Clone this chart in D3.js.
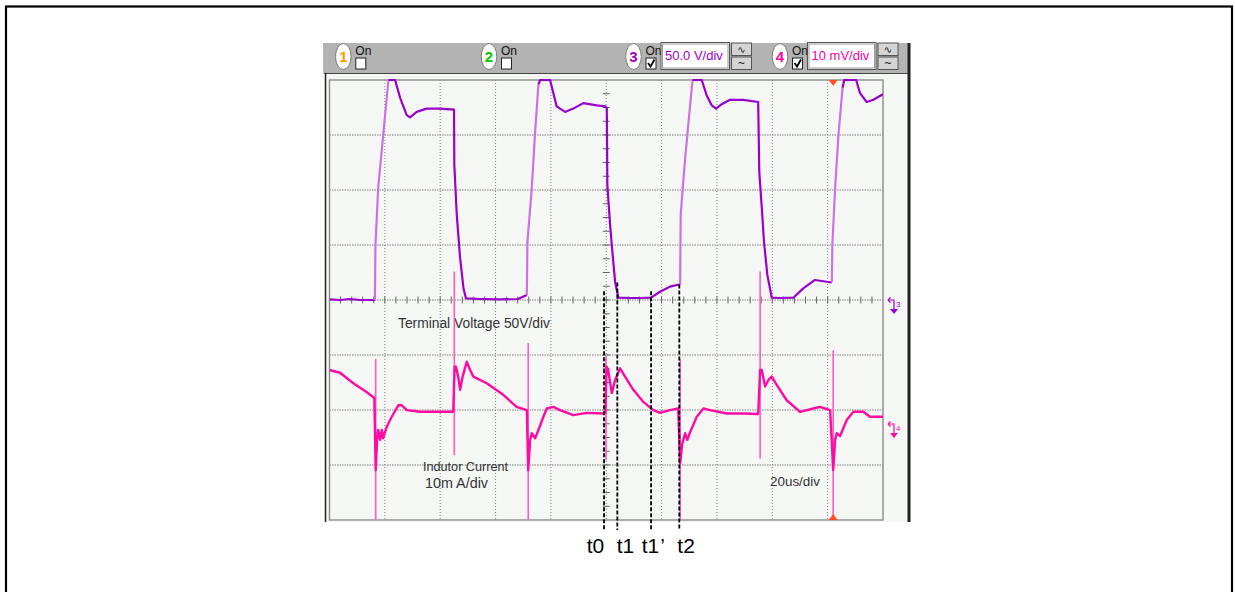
<!DOCTYPE html>
<html><head><meta charset="utf-8">
<script src="https://cdn.jsdelivr.net/npm/d3@7"></script>
<style>html,body{margin:0;padding:0;background:#fff;}svg{display:block}</style>
</head><body>
<svg id="c" width="1235" height="592"></svg>
<script>
// ---------- DATA ----------
// Channel 3: terminal voltage (V) vs time (us), 50 V/div, 20 us/div
const voltTime = [0, 3.8, 7.4, 11.0, 16.4, 16.6, 17.6, 19.4, 21.3, 22.4, 23.7, 25.5, 27.9, 29.1, 31.5, 35.1, 39.9, 45.0,
  45.1, 46.0, 47.2, 48.4, 49.3, 54.4, 61.6, 68.1, 71.3, 71.5, 73.1, 74.3, 75.5, 76.1, 77.9, 79.7, 82.1, 85.1, 88.1, 91.7, 96.6, 99.6,
  100.2, 100.4, 101.4, 102.0, 103.2, 104.4, 108.6, 112.2, 116.2, 119.4, 123.0, 126.7, 126.9, 128.5, 129.3, 130.3, 131.2, 132.8, 134.5,
  136.3, 138.1, 139.7, 141.7, 144.7, 149.5, 154.9, 155.3, 156.2, 157.0, 158.2, 159.8, 162.8, 167.6, 171.2, 175.4, 179.7, 181.5, 181.7,
  182.7, 183.9, 185.4, 186.0, 188.1, 190.3, 191.7, 194.1, 196.5, 200];
const voltValue = [0.5, 0, 0.9, 0, 0, 50, 102, 150, 200, 209, 200, 184, 168, 166, 171, 174, 174, 173,
  123, 77, 38, 11, 1.4, 0.9, 0.5, 0.9, 4.5, 52, 102, 153, 196, 200, 207, 200, 176, 171, 174, 179, 177, 176,
  174.5, 104.5, 68, 50, 16.4, 2.1, 1.8, 1.8, 2.1, 7.5, 12.1, 14.3, 77.3, 129, 150, 177, 200, 209, 200,
  186, 177, 174, 178, 182, 182, 180, 116, 84, 53, 23, 2.1, 1.8, 2.1, 10.6, 18.2, 16.6, 16.1, 50,
  102, 150, 193, 200, 209, 200, 188, 180, 182, 187];

// Channel 4: inductor current (mA) vs time (us), 10 mA/div
const currTime = [0, 3.8, 8.6, 13.4, 16.2, 16.7, 17.2, 17.6, 18.3, 18.9, 19.4, 20.7, 22.5, 24.9, 26.1, 27.9, 32.7, 38.7, 44.7,
  45.2, 45.7, 46.5, 47.2, 48.1, 49.6, 50.8, 52.0, 56.8, 62.8, 67.6, 71.3, 71.8, 72.5, 73.1, 74.3, 75.5, 77.3, 78.5, 80.9, 83.3,
  88.1, 92.9, 98.9, 99.7, 100.1, 100.7, 102.0, 103.2, 105.0, 106.8, 109.8, 113.4, 117.0, 119.4, 123.0, 126.0, 126.7, 127.4,
  128.5, 129.3, 130.3, 132.7, 135.1, 137.5, 143.5, 149.5, 154.9, 155.6, 156.2, 157.4, 158.6, 159.8, 161.6, 165.2, 170.0,
  174.8, 177.2, 180.9, 182.0, 182.7, 183.3, 184.5, 186.9, 189.3, 192.9, 195.3, 200];
const currValue = [10, 9.5, 7.6, 6.0, 4.9, -8.2, -2.7, -0.9, -2.7, -0.9, -2.4, -0.3, 1.5, 3.6, 3.6, 2.7, 2.4, 2.4, 2.4,
  10.6, 10.6, 8.8, 6.4, 8.8, 11.5, 10, 8.8, 7.6, 5.5, 3.3, 2.7, -8.2, -2.7, -1.5, -2.4, -0.9, 1.5, 3.0, 3.3, 2.7,
  1.8, 2.2, 2.1, 2.2, 10.6, 10, 5.8, 8.2, 10.3, 8.8, 6.4, 4.2, 2.7, 2.2, 2.7, 3.0, -7.0, -3.6,
  -1.5, -2.7, -1.3, 1.5, 3.0, 2.7, 2.1, 2.1, 2.0, 10, 10, 7.0, 8.2, 8.8, 7.3, 4.5, 2.4,
  3.0, 3.3, 2.7, -8.2, -2.7, -1.5, -2.0, 0.9, 2.4, 2.4, 1.5, 1.5];

// Switching spikes on channel 4 (time us, top mA, bottom mA)
const spikeTime = [16.7, 45.1, 71.8, 99.9, 126.7, 155.6, 182.0];
const spikeTop = [12.0, 27.9, 14.9, 12.4, 12.0, 27.9, 13.6];
const spikeBottom = [-18, -5.5, -18, -6.4, -18, -6.1, -18];

// Time markers
const markerTimes = [99.2, 104.0, 116.2, 126.4];
const markerTopV = [8, 16, 8, 14];
const markerLabels = ["t0", "t1", "t1", "t2"];
const triggerTime = 182.0;

// Header
const channelNums = ["1", "2", "3", "4"];
const channelScaleText = ["", "", "50.0 V/div", "10 mV/div"];
const channelChecked = [false, false, true, true];

// Annotations
const annoTerminal = "Terminal Voltage 50V/div";
const annoCurrent1 = "Indutor Current";
const annoCurrent2 = "10m A/div";
const annoTime = "20us/div";

// ---------- DRAW ----------
const svg = d3.select("#c");
const plotL = 329.5, plotR = 883, plotT = 80, plotB = 520;
const x = d3.scaleLinear().domain([0, 200]).range([plotL, plotR]);
const yV = d3.scaleLinear().domain([-200, 200]).range([plotB, plotT]).clamp(true);
const yI = d3.scaleLinear().domain([-17.27, 62.73]).range([plotB, plotT]).clamp(true);

const C3 = "#9a00cc", C3L = "#cc72e2", C4 = "#ff0aa5", C4L = "#ff5cc6";
const chColors = ["#f0a000", "#00c800", "#a000c8", "#ff00a0"];

// outer border
svg.append("rect").attr("x", 6).attr("y", 6.5).attr("width", 1226).attr("height", 620)
  .attr("fill", "none").attr("stroke", "#000").attr("stroke-width", 2.2);

// header bar and frame
svg.append("rect").attr("x", 323).attr("y", 43).attr("width", 587).attr("height", 30).attr("fill", "#b3b3b3");
svg.append("rect").attr("x", 325).attr("y", 73).attr("width", 583).attr("height", 449).attr("fill", "#f4f7f4");
svg.append("line").attr("x1", 324).attr("x2", 909).attr("y1", 73.5).attr("y2", 73.5).attr("stroke", "#444").attr("stroke-width", 1);
svg.append("line").attr("x1", 325.5).attr("x2", 325.5).attr("y1", 73).attr("y2", 522).attr("stroke", "#222").attr("stroke-width", 1.5);
svg.append("line").attr("x1", 909).attr("x2", 909).attr("y1", 43).attr("y2", 522).attr("stroke", "#222").attr("stroke-width", 3);

// grid
const g = svg.append("g");
d3.range(20, 200, 20).forEach(t => {
  g.append("line").attr("x1", x(t)).attr("x2", x(t)).attr("y1", plotT).attr("y2", plotB)
    .attr("stroke", "#7e7e7e").attr("stroke-width", 1).attr("stroke-dasharray", "1,2");
});
d3.range(-150, 200, 50).forEach(v => {
  g.append("line").attr("x1", plotL).attr("x2", plotR).attr("y1", yV(v)).attr("y2", yV(v))
    .attr("stroke", "#808080").attr("stroke-width", 1).attr("stroke-dasharray", "1.5,1");
});
// center axis ticks
d3.range(4, 200, 4).forEach(t => {
  g.append("line").attr("x1", x(t)).attr("x2", x(t)).attr("y1", yV(0) - 3.5).attr("y2", yV(0) + 3.5)
    .attr("stroke", "#666").attr("stroke-width", 1);
});
d3.range(-187.5, 200, 12.5).forEach(v => {
  g.append("line").attr("x1", x(100) - 3.5).attr("x2", x(100) + 3.5).attr("y1", yV(v)).attr("y2", yV(v))
    .attr("stroke", "#666").attr("stroke-width", 1);
});
// plot border
svg.append("rect").attr("x", plotL).attr("y", plotT).attr("width", plotR - plotL).attr("height", plotB - plotT)
  .attr("fill", "none").attr("stroke", "#8a8a8a").attr("stroke-width", 1.4);

// annotations
const annoFont = "'Liberation Sans', Arial, sans-serif";
function anno(txt, xx, yy, len, size) {
  svg.append("text").attr("x", xx).attr("y", yy).attr("font-family", annoFont).attr("font-size", size)
    .attr("fill", "#333").attr("textLength", len).attr("lengthAdjust", "spacingAndGlyphs").text(txt);
}
anno(annoTerminal, 398, 328, 152, 14);
anno(annoCurrent1, 423, 471, 85, 13.5);
anno(annoCurrent2, 425, 488, 63, 14);
anno(annoTime, 770, 486, 50, 13.5);

// clip for traces
svg.append("clipPath").attr("id", "clip").append("rect")
  .attr("x", plotL).attr("y", plotT - 1).attr("width", plotR - plotL).attr("height", plotB - plotT + 1);
const traces = svg.append("g").attr("clip-path", "url(#clip)");

// voltage trace: runs coloured by slope (fast rising edges drawn lighter)
const vPts = voltTime.map((t, i) => [t, voltValue[i]]);
const runs = [];
for (let i = 1; i < vPts.length; i++) {
  const dt = vPts[i][0] - vPts[i - 1][0];
  const dv = vPts[i][1] - vPts[i - 1][1];
  const light = dv / Math.max(dt, 1e-6) > 15;
  const last = runs[runs.length - 1];
  if (last && last.light === light) last.pts.push(vPts[i]);
  else runs.push({ light, pts: [vPts[i - 1], vPts[i]] });
}
const vLine = d3.line().x(d => x(d[0])).y(d => yV(d[1]));
runs.forEach(r => {
  traces.append("path").attr("d", vLine(r.pts)).attr("fill", "none")
    .attr("stroke", r.light ? C3L : C3).attr("stroke-width", 2.2).attr("stroke-linejoin", "round");
});

// current spikes
spikeTime.forEach((t, i) => {
  traces.append("line").attr("x1", x(t)).attr("x2", x(t)).attr("y1", yI(spikeTop[i])).attr("y2", yI(spikeBottom[i]))
    .attr("stroke", C4L).attr("stroke-width", 1.6);
});
// current trace
const iLine = d3.line().x((d, i) => x(currTime[i])).y(d => yI(d));
traces.append("path").attr("d", iLine(currValue)).attr("fill", "none")
  .attr("stroke", C4).attr("stroke-width", 2.4).attr("stroke-linejoin", "round");

// trigger markers
const tx = x(triggerTime);
svg.append("path").attr("d", `M${tx - 4.5},${plotT} L${tx + 4.5},${plotT} L${tx},${plotT + 6} Z`).attr("fill", "#ff5020");
svg.append("path").attr("d", `M${tx - 4.5},${plotB} L${tx + 4.5},${plotB} L${tx},${plotB - 6} Z`).attr("fill", "#ff5020");

// channel reference markers on the right
function refMarker(yy, col, num) {
  const m = svg.append("g").attr("stroke", col).attr("fill", "none").attr("stroke-width", 1.2);
  m.append("path").attr("d", `M888,${yy} L894,${yy} L894,${yy + 9}`);
  m.append("path").attr("d", `M888,${yy} l2.5,-2.5 M888,${yy} l2.5,2.5`);
  svg.append("path").attr("d", `M890,${yy + 9} L898,${yy + 9} L894,${yy + 14} Z`).attr("fill", col);
  svg.append("text").attr("x", 896).attr("y", yy + 7).attr("font-size", 8).attr("font-family", annoFont)
    .attr("fill", col).text(num);
}
refMarker(yV(0), C3, "3");
refMarker(yI(0) - 1, C4, "4");

// time marker dashed lines and labels
const labelDx = [-17.3, -0.6, -9.3, -2];
markerTimes.forEach((t, i) => {
  svg.append("line").attr("x1", x(t)).attr("x2", x(t)).attr("y1", yV(markerTopV[i])).attr("y2", 530)
    .attr("stroke", "#000").attr("stroke-width", 1.8).attr("stroke-dasharray", "4,2");
  const tt = svg.append("text").attr("x", x(t) + labelDx[i]).attr("y", 553)
    .attr("font-family", annoFont).attr("font-size", 21).attr("fill", "#000");
  tt.append("tspan").text(markerLabels[i]);
  if (i === 2) tt.append("tspan").attr("dx", 1).text("’");
});

// header channel controls
const ovalX = [343.3, 489, 633.5, 780];
const hf = "'Liberation Sans Narrow', 'Liberation Sans', Arial, sans-serif";
channelNums.forEach((n, i) => {
  const cx = ovalX[i];
  svg.append("ellipse").attr("cx", cx).attr("cy", 56.5).attr("rx", 7.8).attr("ry", 13)
    .attr("fill", "#fff").attr("stroke", "#7a7a7a").attr("stroke-width", 1);
  svg.append("text").attr("x", cx).attr("y", 62).attr("text-anchor", "middle").attr("font-family", annoFont)
    .attr("font-weight", "bold").attr("font-size", 15).attr("fill", chColors[i]).text(n);
  svg.append("text").attr("x", cx + 12).attr("y", 55).attr("font-family", hf).attr("font-size", 12)
    .attr("fill", "#111").text("On");
  svg.append("rect").attr("x", cx + 12.5).attr("y", 58).attr("width", 10).attr("height", 11)
    .attr("fill", "#fff").attr("stroke", "#222").attr("stroke-width", 1);
  if (channelChecked[i]) {
    svg.append("path").attr("d", `M${cx + 14.5},${63} L${cx + 17},${66.5} L${cx + 21},${59.5}`)
      .attr("fill", "none").attr("stroke", "#000").attr("stroke-width", 1.8);
  }
  if (channelScaleText[i]) {
    const bx = cx + 27.5;
    svg.append("rect").attr("x", bx).attr("y", 42.5).attr("width", 68.5).attr("height", 27)
      .attr("fill", "#fff").attr("stroke", "#555").attr("stroke-width", 1);
    svg.append("rect").attr("x", bx + 1.5).attr("y", 44).attr("width", 65.5).attr("height", 24)
      .attr("fill", "none").attr("stroke", "#999").attr("stroke-width", 1);
    svg.append("text").attr("x", bx + 4).attr("y", 60).attr("font-family", hf).attr("font-size", 13)
      .attr("fill", chColors[i]).text(channelScaleText[i]);
    const ux = cx + 98;
    [43, 57].forEach((by, k) => {
      svg.append("rect").attr("x", ux).attr("y", by).attr("width", 20).attr("height", 12.5)
        .attr("fill", "#d4d4d4").attr("stroke", "#555").attr("stroke-width", 1);
      svg.append("text").attr("x", ux + 10).attr("y", by + 10).attr("text-anchor", "middle")
        .attr("font-family", "'DejaVu Sans', sans-serif").attr("font-size", 10).attr("fill", "#222")
        .text(k === 0 ? "∿" : "~");
    });
  }
});
</script>
</body></html>
